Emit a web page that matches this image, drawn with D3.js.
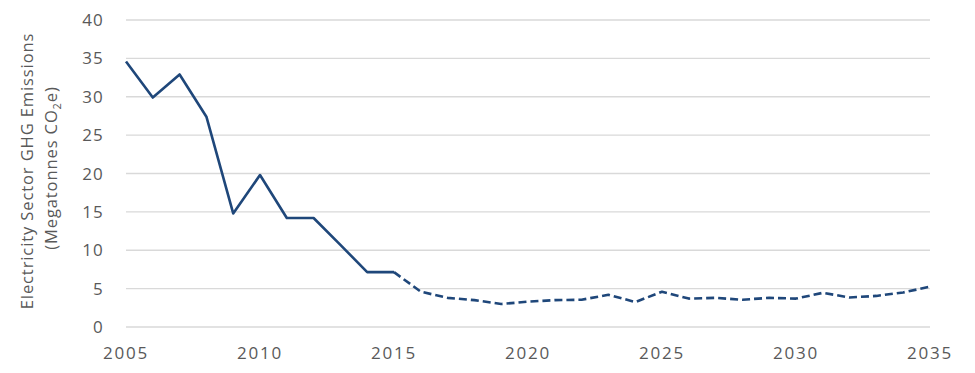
<!DOCTYPE html>
<html>
<head>
<meta charset="utf-8">
<script src="https://cdn.jsdelivr.net/npm/d3@7"></script>
<style>
  body { margin: 0; background: #fff; }
  text { font-family: "Open Sans", "DejaVu Sans", sans-serif; fill: #595959; }
</style>
</head>
<body>
<svg id="chart" width="975" height="373"></svg>
<script>
// Emissions by year (Mt CO2e); history solid up to 2015, projection dashed after
const years = d3.range(2005, 2036);
const emissions = [
  34.6, 29.9, 32.9, 27.4, 14.8, 19.8, 14.2, 14.2, 10.7, 7.15,
  7.15, 4.6, 3.8, 3.5, 3.0, 3.3, 3.5, 3.55, 4.2, 3.25,
  4.6, 3.7, 3.8, 3.55, 3.8, 3.7, 4.45, 3.85, 4.05, 4.5,
  5.25
];
const lastActualYear = 2015;
const yTicks = [0, 5, 10, 15, 20, 25, 30, 35, 40];
const xTicks = [2005, 2010, 2015, 2020, 2025, 2030, 2035];

const svg = d3.select("#chart");
const margin = {left: 126, right: 45, top: 20, bottom: 46};
const W = 975, H = 373;

const x = d3.scaleLinear().domain([2005, 2035]).range([margin.left, W - margin.right]);
const y = d3.scaleLinear().domain([0, 40]).range([H - margin.bottom, margin.top]);

// gridlines
svg.append("g")
  .selectAll("line")
  .data(yTicks)
  .join("line")
  .attr("x1", x(2005)).attr("x2", x(2035))
  .attr("y1", d => y(d)).attr("y2", d => y(d))
  .attr("stroke", "#d9d9d9").attr("stroke-width", 1.3);

// y tick labels
svg.append("g")
  .selectAll("text")
  .data(yTicks)
  .join("text")
  .attr("x", 104)
  .attr("y", d => y(d))
  .attr("dy", "0.36em")
  .attr("text-anchor", "end")
  .style("font-size", "17px")
  .style("letter-spacing", "1.2px")
  .text(d => d);

// x tick labels
svg.append("g")
  .selectAll("text")
  .data(xTicks)
  .join("text")
  .attr("x", d => x(d))
  .attr("y", 359)
  .attr("text-anchor", "middle")
  .style("font-size", "17px")
  .style("letter-spacing", "1.8px")
  .text(d => d);

// y axis title, two lines, second with subscript
const midY = 171;
const title = svg.append("text")
  .attr("transform", `translate(0,${midY}) rotate(-90)`)
  .attr("text-anchor", "middle")
  .style("font-size", "16.5px")
  .style("letter-spacing", "0.9px");
title.append("tspan").attr("x", 0).attr("y", 33).text("Electricity Sector GHG Emissions");

const sub = svg.append("text")
  .attr("transform", `translate(0,${midY - 3}) rotate(-90)`)
  .attr("text-anchor", "middle")
  .style("font-size", "16.5px")
  .style("letter-spacing", "0.9px");
sub.append("tspan").attr("x", 0).attr("y", 57).text("(Megatonnes CO");
sub.append("tspan").attr("dy", 4).style("font-size", "11px").text("2");
sub.append("tspan").attr("dy", -4).text("e)");

const data = years.map((yr, i) => ({year: yr, value: emissions[i]}));
const line = d3.line().x(d => x(d.year)).y(d => y(d.value));

svg.append("path")
  .datum(data.filter(d => d.year <= lastActualYear))
  .attr("d", line)
  .attr("fill", "none")
  .attr("stroke", "#1f477a")
  .attr("stroke-width", 2.6)
  .attr("stroke-linejoin", "round");

svg.append("path")
  .datum(data.filter(d => d.year >= lastActualYear))
  .attr("d", line)
  .attr("fill", "none")
  .attr("stroke", "#1f477a")
  .attr("stroke-width", 2.6)
  .attr("stroke-dasharray", "8,4")
  .attr("stroke-linejoin", "round");
</script>
</body>
</html>
